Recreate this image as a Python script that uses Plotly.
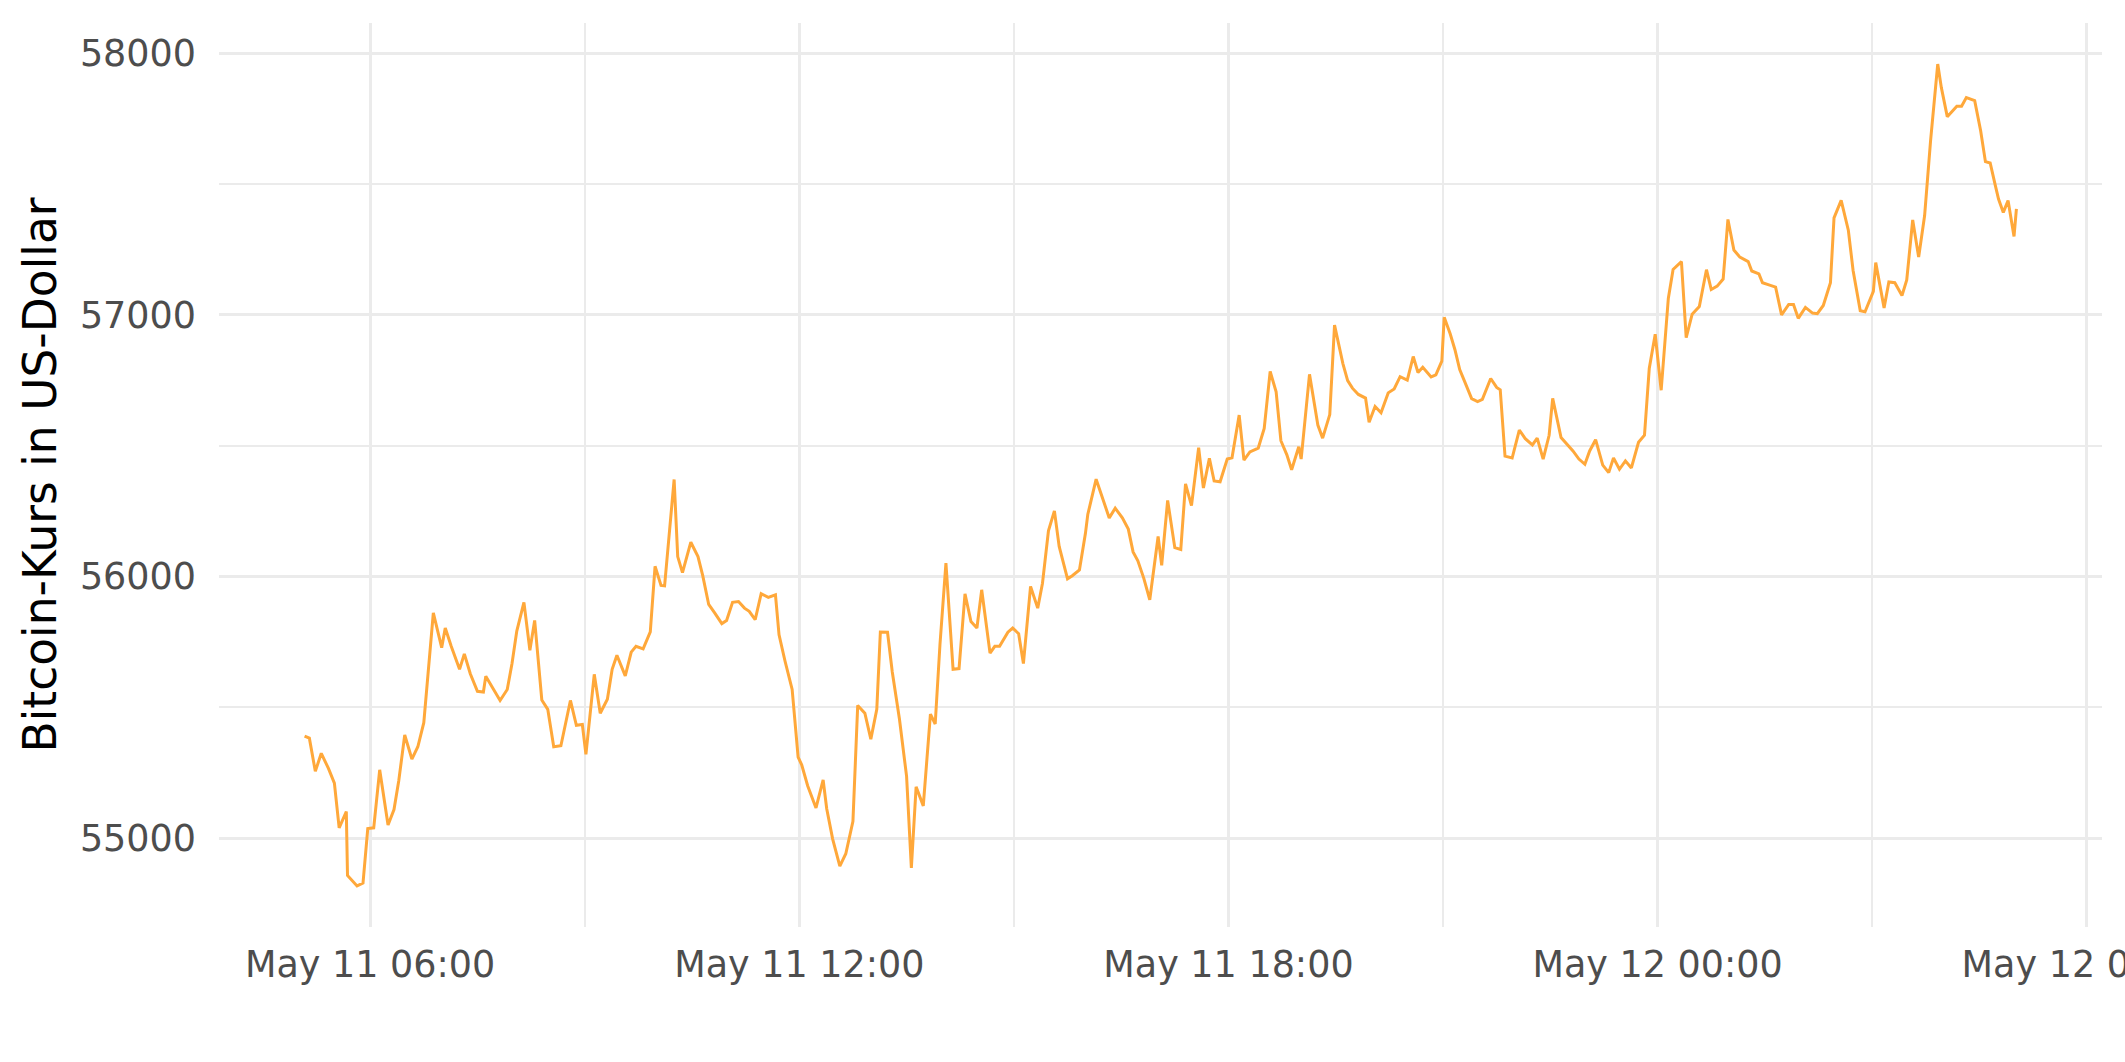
import plotly.graph_objects as go
import pandas as pd

# Minutes after 2021-05-11 00:00 and Bitcoin price (USD)
minutes = [
    305, 309, 314, 319, 325, 330, 334, 340, 341, 349, 354, 358, 363, 368, 375, 380, 384, 389, 395, 400,
    405, 409, 413, 420, 423, 428, 435, 439, 444, 450, 455, 457, 463, 469, 475, 479, 483, 489, 494, 498,
    504, 509, 514, 520, 528, 533, 538, 541, 548, 553, 559, 563, 567, 574, 579, 583, 589, 595, 599, 604,
    607, 615, 618, 622, 629,
    635, 639, 644, 649, 655, 659, 664, 669, 674, 678, 683, 688, 694, 700, 703, 708, 714, 719, 722, 727,
    734, 740, 743, 748, 754, 759, 765, 769, 775, 780, 785, 788, 794, 798, 804, 810, 814, 818, 824, 830,
    834, 838, 843, 849, 854, 859, 864, 869, 873, 880, 884, 888, 895, 899, 904, 908, 914, 920, 924, 929,
    934, 938, 945, 949, 955, 960, 962, 969,
    975, 980, 985, 991, 996, 1000, 1004, 1009, 1014, 1021, 1024, 1029, 1035, 1040, 1044, 1049, 1055, 1059,
    1064, 1068, 1073, 1079, 1083, 1089, 1093, 1098, 1105, 1110, 1115, 1120, 1124, 1129, 1133, 1139, 1141,
    1148, 1155, 1159, 1165, 1169, 1176, 1180, 1184, 1189, 1195, 1198, 1203, 1208, 1214, 1219, 1224, 1230,
    1235, 1239, 1243, 1250, 1254, 1259, 1261, 1266, 1270, 1274, 1278, 1284, 1289, 1293, 1300, 1305,
    1308, 1312, 1318, 1324, 1329, 1335, 1339, 1344, 1349, 1352, 1359, 1364, 1369, 1374, 1379, 1383, 1388,
    1394, 1399, 1403, 1408, 1413, 1418, 1424, 1429, 1433, 1438, 1443, 1449, 1453, 1460, 1464, 1469, 1475,
    1481, 1485, 1490, 1495, 1499, 1504, 1509, 1516, 1519, 1525, 1528, 1534, 1539, 1544, 1550, 1554, 1558,
    1564, 1570, 1574, 1579, 1585, 1588, 1594, 1600, 1604, 1610, 1614, 1621, 1623, 1630, 1634, 1639,
    1645, 1649, 1654, 1659, 1664, 1669, 1675, 1678, 1683, 1688, 1691, 1695, 1699, 1706, 1711, 1715, 1719,
    1723, 1726, 1730, 1734, 1739, 1741,
]
prices = [
    55390, 55382, 55255, 55324, 55266, 55210, 55039, 55101, 54857, 54817, 54828, 55036, 55039, 55261, 55050,
    55109, 55219, 55394, 55302, 55349, 55441, 55653, 55861, 55728, 55803, 55733, 55645, 55704, 55628, 55561,
    55558, 55619, 55572, 55526, 55568, 55667, 55791, 55901, 55718, 55832, 55528, 55492, 55349, 55353, 55526,
    55431, 55434, 55320, 55626, 55477, 55531, 55645, 55699, 55620, 55711, 55733, 55723, 55788, 56039, 55966,
    55964, 56371, 56076, 56015, 56131,
    56076, 56003, 55893, 55861, 55820, 55832, 55901, 55904, 55879, 55867, 55835, 55934, 55920, 55930, 55777,
    55677, 55568, 55309, 55280, 55200, 55115, 55222, 55112, 54996, 54893, 54940, 55064, 55507, 55477, 55378,
    55492, 55788, 55787, 55635, 55455, 55236, 54886, 55196, 55123, 55474, 55436, 55740, 56051, 55645, 55648,
    55934, 55828, 55803, 55949, 55707, 55733, 55733, 55787, 55803, 55781, 55667, 55962, 55879, 55974, 56175,
    56251, 56115, 55991, 56003, 56025, 56164, 56237, 56372,
    56291, 56224, 56261, 56224, 56181, 56094, 56060, 55993, 55911, 56153, 56043, 56291, 56110, 56103, 56354,
    56271, 56492, 56338, 56452, 56365, 56362, 56449, 56454, 56617, 56445, 56476, 56491, 56566, 56784, 56706,
    56519, 56465, 56408, 56496, 56449, 56773, 56579, 56529, 56619, 56961, 56814, 56749, 56720, 56696, 56682,
    56590, 56650, 56626, 56702, 56717, 56764, 56751, 56841, 56780, 56800, 56763, 56771, 56823, 56991, 56928,
    56867, 56791, 56747, 56680, 56669, 56677, 56757, 56723,
    56714, 56460, 56453, 56560, 56527, 56503, 56529, 56449, 56540, 56681, 56531, 56507, 56480, 56449, 56429,
    56480, 56523, 56426, 56397, 56453, 56410, 56442, 56415, 56513, 56540, 56795, 56926, 56712, 57063, 57174,
    57204, 56913, 57003, 57032, 57173, 57097, 57110, 57137, 57365, 57248, 57221, 57204, 57168, 57157, 57123,
    57114, 57106, 57000, 57040, 57040, 56987, 57029, 57007, 57005, 57036, 57123, 57371, 57438, 57324, 57170,
    57016, 57012, 57090, 57200, 57027, 57126, 57123,
    57074, 57134, 57363, 57221, 57380, 57666, 57959, 57870, 57758, 57781, 57798, 57798, 57831, 57819, 57704,
    57586, 57581, 57501, 57443, 57392, 57437, 57300, 57405,
]

y_title = "Bitcoin-Kurs in US-Dollar"

start = pd.Timestamp("2021-05-11 00:00")
times = [start + pd.Timedelta(minutes=m) for m in minutes]

# ggplot-like 5% expansion of the data range
t_span = minutes[-1] - minutes[0]
x_range = [start + pd.Timedelta(minutes=minutes[0] - 0.05 * t_span),
           start + pd.Timedelta(minutes=minutes[-1] + 0.05 * t_span)]
p_span = max(prices) - min(prices)
y_range = [min(prices) - 0.05 * p_span, max(prices) + 0.05 * p_span]

fig = go.Figure(
    go.Scatter(x=times, y=prices, mode="lines",
               line=dict(color="#FFA83A", width=3), hoverinfo="x+y")
)

grid = "#EBEBEB"
fig.update_layout(
    template="none",
    width=2125, height=1062,
    margin=dict(l=219, r=23, t=23, b=135, autoexpand=False),
    paper_bgcolor="white", plot_bgcolor="white",
    showlegend=False,
    font=dict(family="DejaVu Sans", color="#4D4D4D"),
)
fig.update_xaxes(
    type="date", range=x_range,
    tick0="2021-05-11 00:00", dtick=6 * 3600000,
    tickformat="%b %d %H:%M",
    showgrid=True, gridcolor=grid, gridwidth=3.2,
    minor=dict(tick0="2021-05-11 00:00", dtick=3 * 3600000, showgrid=True,
               gridcolor=grid, gridwidth=1.6, ticks=""),
    zeroline=False, showline=False, ticks="",
    tickfont=dict(size=36.5, color="#4D4D4D", family="DejaVu Sans"),
    ticklabelstandoff=12,
    ticklabeloverflow="allow",
    automargin=False,
)
fig.update_yaxes(
    range=y_range,
    tick0=55000, dtick=1000, tickformat="d",
    showgrid=True, gridcolor=grid, gridwidth=3.2,
    minor=dict(dtick=500, showgrid=True, gridcolor=grid, gridwidth=1.6, ticks=""),
    zeroline=False, showline=False, ticks="",
    tickfont=dict(size=36.5, color="#4D4D4D", family="DejaVu Sans"),
    ticklabelstandoff=22,
    title=dict(text=y_title, font=dict(size=45.5, color="black", family="DejaVu Sans"), standoff=8),
    automargin=False,
)

fig.write_html("out.html", config={"displayModeBar": False},
               post_script="document.body.style.margin='0';")
